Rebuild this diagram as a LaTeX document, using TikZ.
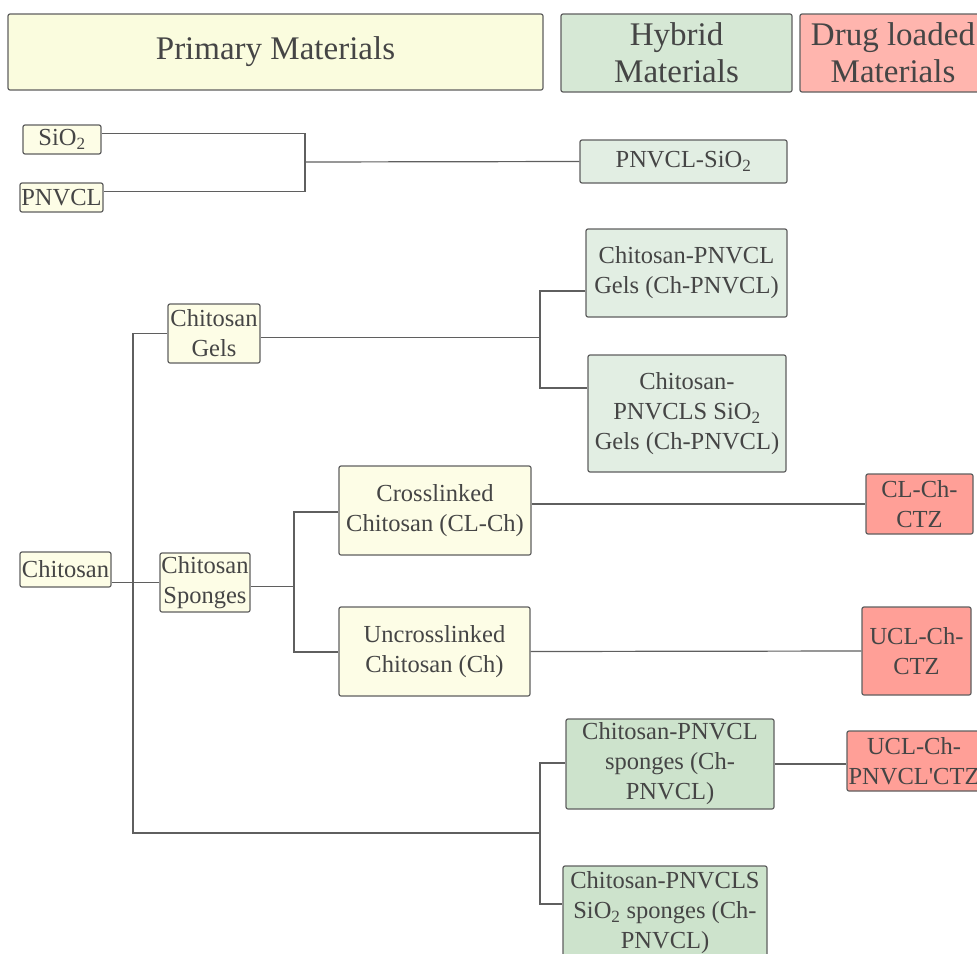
\documentclass[tikz,border=0pt]{standalone}
\usepackage{fontspec}
\setmainfont{Liberation Serif}
\definecolor{headprim}{HTML}{FAFCDE}
\definecolor{primfill}{HTML}{FDFDE6}
\definecolor{hybhead}{HTML}{D6E8D5}
\definecolor{hyblight}{HTML}{E2EEE3}
\definecolor{hybdark}{HTML}{CDE3CC}
\definecolor{drughead}{HTML}{FFB5AE}
\definecolor{drugfill}{HTML}{FF9F97}
\definecolor{linegray}{HTML}{5F5F5F}
\definecolor{textgray}{HTML}{454545}

\begin{document}
\begin{tikzpicture}[x=1pt,y=-1pt,
		base box/.style={rectangle,draw=linegray,line width=1.2pt,rounded corners=2pt,
			align=center,inner sep=0pt,text=textgray,font=\fontsize{24.5}{30}\selectfont},
		head node/.style={base box,font=\fontsize{33}{37}\selectfont},
		primary node/.style={base box,fill=primfill},
		light hybrid/.style={base box,fill=hyblight},
		dark hybrid/.style={base box,fill=hybdark},
		drug node/.style={base box,fill=drugfill},
		link/.style={draw=linegray,line width=1.2pt}]

		\useasboundingbox (0,0) rectangle (977,953);
		\clip (0,0) rectangle (977,953);

		\node[head node,fill=headprim,minimum width=535pt,minimum height=76pt] (prim) at (275.5,52) {Primary Materials};
		\node[head node,fill=hybhead,minimum width=231pt,minimum height=78pt] (hyb) at (676.5,53) {Hybrid\\Materials};
		\node[head node,fill=drughead,minimum width=186pt,minimum height=78pt] (drug) at (893,53) {Drug loaded\\Materials};

		\node[primary node,minimum width=78pt,minimum height=29pt] (sio) at (62,139.5) {SiO\textsubscript{2}};
		\node[primary node,minimum width=83pt,minimum height=29pt] (pnvcl) at (61.5,197.5) {PNVCL};
		\node[light hybrid,minimum width=207pt,minimum height=43pt] (pnsio) at (683.5,161.5) {PNVCL-SiO\textsubscript{2}};

		\node[primary node,minimum width=92pt,minimum height=59pt] (gels) at (214,333.5) {Chitosan\\Gels};
		\node[light hybrid,minimum width=201pt,minimum height=88pt] (chpg) at (686.5,273) {Chitosan-PNVCL\\Gels (Ch-PNVCL)};
		\node[light hybrid,minimum width=198pt,minimum height=117pt] (chpsg) at (687,413.5) {Chitosan-\\PNVCLS SiO\textsubscript{2}\\Gels (Ch-PNVCL)};

		\node[primary node,minimum width=91pt,minimum height=35pt] (chit) at (65.5,569.5) {Chitosan};
		\node[primary node,minimum width=90pt,minimum height=59pt] (spg) at (205,582.5) {Chitosan\\Sponges};
		\node[primary node,minimum width=192pt,minimum height=89pt] (cl) at (435,510.5) {Crosslinked\\Chitosan (CL-Ch)};
		\node[primary node,minimum width=191pt,minimum height=89pt] (ucl) at (434.5,651.5) {Uncrosslinked\\Chitosan (Ch)};
		\node[drug node,minimum width=107pt,minimum height=60pt] (clctz) at (919.5,504) {CL-Ch-\\CTZ};
		\node[drug node,minimum width=109pt,minimum height=88pt] (uclctz) at (916.5,651) {UCL-Ch-\\CTZ};

		\node[dark hybrid,minimum width=208pt,minimum height=90pt] (chps) at (670,764) {Chitosan-PNVCL\\sponges (Ch-\\PNVCL)};
		\node[drug node,minimum width=134pt,minimum height=60pt] (uclp) at (914,761) {UCL-Ch-\\PNVCL\textquotesingle CTZ};
		\node[dark hybrid,minimum width=204pt,minimum height=94pt] (chpss) at (665,913) {Chitosan-PNVCLS\\SiO\textsubscript{2} sponges (Ch-\\PNVCL)};

		\coordinate (j1) at (305,162);
		\draw[link] ([yshift=6pt]sio.east) -| (j1) |- ([yshift=6pt]pnvcl.east);
		\draw[link] (j1) -- (pnsio.west);

		\coordinate (trunk) at (133,833);
		\coordinate (j3) at (540,833);
		\draw[link] (gels.west) -| (trunk) -- (j3);
		\draw[link] (chit.east |- spg.west) -- (spg.west);

		\coordinate (g1) at (540,291);
		\coordinate (g2) at (540,388);
		\draw[link] ([yshift=-4pt]gels.east) -- ([yshift=-4pt]gels.east -| g1);
		\draw[link] (g1 -| chpg.west) -- (g1) -- (g2) -- (g2 -| chpsg.west);

		\coordinate (s1) at (294,512);
		\coordinate (s2) at (294,652);
		\draw[link] ([yshift=-4pt]spg.east) -- ([yshift=-4pt]spg.east -| s1);
		\draw[link] (s1 -| cl.west) -- (s1) -- (s2) -- (s2 -| ucl.west);
		\draw[link] (cl.east |- clctz.west) -- (clctz.west);
		\draw[link] (ucl.east) -- (uclctz.west);

		\draw[link] (chps.east) -- (chps.east -| uclp.west);
		\coordinate (p1) at (540,763);
		\coordinate (p2) at (540,904);
		\draw[link] (p1 -| chps.west) -- (p1) -- (p2) -- (p2 -| chpss.west);
\end{tikzpicture}
\end{document}
